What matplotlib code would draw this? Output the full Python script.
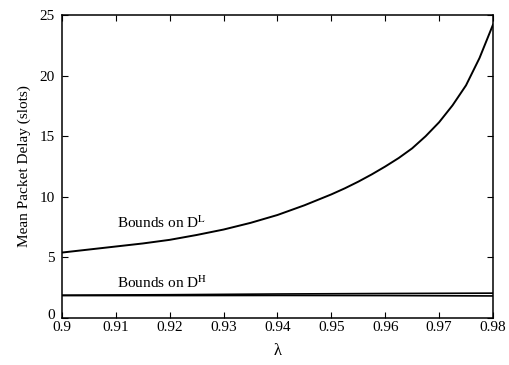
import numpy as np
import matplotlib.pyplot as plt
import matplotlib.transforms as mtransforms

plt.rcParams['font.family'] = ['Liberation Serif', 'DejaVu Serif']
plt.rcParams['mathtext.fontset'] = 'stix'

# valores
lam = [0.900, 0.905, 0.910, 0.915, 0.920, 0.925, 0.930, 0.935, 0.940,
       0.945, 0.950, 0.9525, 0.955, 0.9575, 0.960, 0.9625, 0.965, 0.9675,
       0.970, 0.9725, 0.975, 0.9775, 0.980]
d_low = [5.4, 5.65, 5.9, 6.15, 6.45, 6.85, 7.3, 7.85, 8.5,
         9.3, 10.2, 10.7, 11.25, 11.85, 12.5, 13.2, 14.0, 15.0,
         16.15, 17.55, 19.2, 21.45, 24.2]
lam_h = [0.900, 0.920, 0.940, 0.960, 0.980]
d_high_lo = [1.85, 1.85, 1.86, 1.85, 1.82]
d_high_up = [1.88, 1.92, 1.98, 2.02, 2.05]

xticks = [0.9, 0.91, 0.92, 0.93, 0.94, 0.95, 0.96, 0.97, 0.98]
xticklabels = ['0.9', '0.91', '0.92', '0.93', '0.94', '0.95', '0.96', '0.97', '0.98']
yticks = [0, 5, 10, 15, 20, 25]

fig = plt.figure(figsize=(5.1, 3.65), dpi=100)
ax = fig.add_axes([0.1216, 0.1288, 0.845, 0.83])

ax.plot(lam, d_low, color='black', lw=1.4)
ax.plot(lam_h, d_high_lo, color='black', lw=1.2)
ax.plot(lam_h, d_high_up, color='black', lw=1.2)

ax.text(0.9102, 7.85, 'Bounds on D$^{\\mathrm{L}}$', fontsize=11, va='center', ha='left')
ax.text(0.9102, 2.9, 'Bounds on D$^{\\mathrm{H}}$', fontsize=11, va='center', ha='left')

ax.set_xlim(0.9, 0.98)
ax.set_ylim(0, 25)
ax.set_xticks(xticks)
ax.set_xticklabels(xticklabels)
ax.set_yticks(yticks)
ax.tick_params(direction='in', top=True, right=True, length=4, labelsize=11)
ax.tick_params(axis='x', pad=2)
ax.tick_params(axis='y', pad=5)
for s in ax.spines.values():
    s.set_linewidth(1.1)

# sobe um pouco o "0" para não encostar no "0.9"
lbl0 = ax.get_yticklabels()[0]
lbl0.set_transform(lbl0.get_transform() + mtransforms.ScaledTranslation(0, 3/72, fig.dpi_scale_trans))

ax.set_xlabel('λ', fontsize=12, labelpad=7)
ax.set_ylabel('Mean Packet Delay (slots)', fontsize=11, labelpad=6)

plt.savefig('out.png', dpi=100)
